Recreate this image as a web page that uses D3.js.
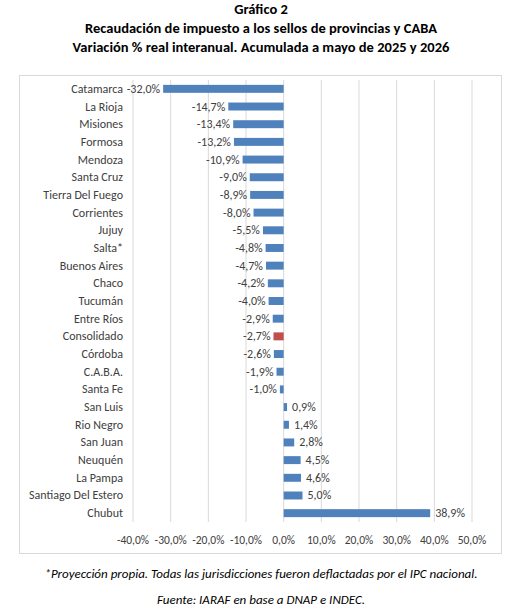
<!DOCTYPE html><html><head><meta charset="utf-8"><script src="https://cdn.jsdelivr.net/npm/d3@7"></script>
<style>body{margin:0;background:#fff}text{font-family:Calibri,Carlito,"Liberation Sans",sans-serif}</style></head><body><svg id="c" width="523" height="612"></svg>
<script>
const categories=["Catamarca","La Rioja","Misiones","Formosa","Mendoza","Santa Cruz","Tierra Del Fuego","Corrientes","Jujuy","Salta*","Buenos Aires","Chaco","Tucumán","Entre Ríos","Consolidado","Córdoba","C.A.B.A.","Santa Fe","San Luis","Rio Negro","San Juan","Neuquén","La Pampa","Santiago Del Estero","Chubut"];
const values=[-32.0,-14.7,-13.4,-13.2,-10.9,-9.0,-8.9,-8.0,-5.5,-4.8,-4.7,-4.2,-4.0,-2.9,-2.7,-2.6,-1.9,-1.0,0.9,1.4,2.8,4.5,4.6,5.0,38.9];
const ticks=[-40,-30,-20,-10,0,10,20,30,40,50];
const svg=d3.select("#c");
const fmt=v=>v.toFixed(1).replace(".",",")+"%";
const titles=["Gráfico 2","Recaudación de impuesto a los sellos de provincias y CABA","Variación % real interanual. Acumulada a mayo de 2025 y 2026"];
titles.forEach((t,i)=>svg.append("text").attr("x",261).attr("y",14+i*19).attr("text-anchor","middle").attr("font-weight","bold").attr("font-size",14.5).attr("fill","#000").text(t));
svg.append("rect").attr("x",19.5).attr("y",75.5).attr("width",482).attr("height",478).attr("fill","none").attr("stroke","#d9d9d9");
const x=d3.scaleLinear().domain([-40,50]).range([133,472]);
const y=d3.scaleBand().domain(categories).range([80,522]).paddingInner(0.55).paddingOuter(0.275);
svg.append("g").selectAll("line").data(ticks).join("line").attr("x1",d=>x(d)).attr("x2",d=>x(d)).attr("y1",80).attr("y2",522).attr("stroke","#d9d9d9");
svg.append("g").selectAll("rect").data(values).join("rect").attr("x",d=>x(Math.min(0,d))).attr("width",d=>Math.abs(x(d)-x(0))).attr("y",(d,i)=>y(categories[i])).attr("height",y.bandwidth()).attr("fill",(d,i)=>categories[i]==="Consolidado"?"#c0504d":"#4f81bd");
const cy=i=>y(categories[i])+y.bandwidth()/2+4;
svg.append("g").selectAll("text").data(categories).join("text").attr("x",123).attr("y",(d,i)=>cy(i)).attr("text-anchor","end").attr("font-size",12).attr("fill","#404040").text(d=>d);
svg.append("g").selectAll("text").data(values).join("text").attr("x",d=>d<0?x(d)-3:x(d)+5).attr("y",(d,i)=>cy(i)).attr("text-anchor",d=>d<0?"end":"start").attr("font-size",12).attr("fill","#404040").text(fmt);
svg.append("g").selectAll("text").data(ticks).join("text").attr("x",d=>x(d)).attr("y",544).attr("text-anchor","middle").attr("font-size",11.5).attr("fill","#404040").text(d=>d.toFixed(1).replace(".",",")+"%");
svg.append("text").attr("x",261).attr("y",578).attr("text-anchor","middle").attr("font-style","italic").attr("font-size",13).text("*Proyección propia. Todas las jurisdicciones fueron deflactadas por el IPC nacional.");
svg.append("text").attr("x",261).attr("y",604).attr("text-anchor","middle").attr("font-style","italic").attr("font-size",13).text("Fuente: IARAF en base a DNAP e INDEC.");
</script></body></html>
